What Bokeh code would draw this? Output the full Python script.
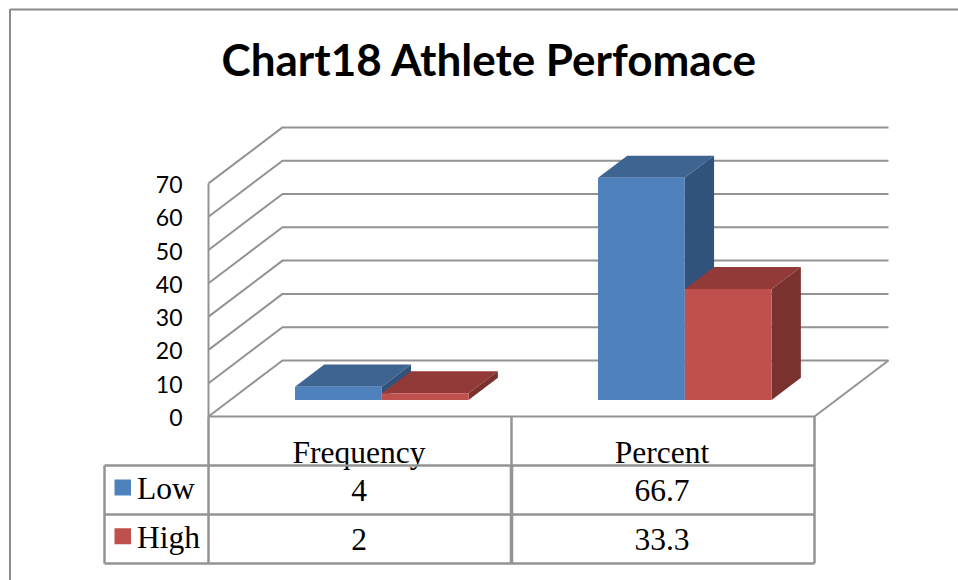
from bokeh.core.properties import value
from bokeh.embed import file_html
from bokeh.models import Range1d
from bokeh.plotting import figure
from bokeh.resources import INLINE

title_text = "Chart18 Athlete Perfomace"
categories = ["Frequency", "Percent"]
series_names = ["Low", "High"]
low_values = [4, 66.7]
high_values = [2, 33.3]
y_ticks = [0, 10, 20, 30, 40, 50, 60, 70]

BLUE = ("#4F81BD", "#3E6491", "#31527A")
RED = ("#C0504D", "#923A38", "#7A322F")
GRID = "#939393"
INK = "#000000"

# Page layout: one category spans CAT_PX pixels and one value unit VAL_PX pixels.
W, H = 958, 580
ORIGIN_X, ORIGIN_Y = 208, 416
CAT_PX, VAL_PX = 303, 3.33

# Oblique projection of the chart's depth axis.
WALL_DX, WALL_DY = 74 / CAT_PX, 56 / VAL_PX
BAR_DEPTH_NEAR, BAR_DEPTH_FAR = 0.295, 0.69
BAR_LEFT, BAR_WIDTH = 0.2135, 0.2865

# Vertical correction of serif text so its baseline lands on the requested row.
BASELINE_LIFT = 10.0
SERIF_SIZE = "31.5px"


def xp(px):
    return (px - ORIGIN_X) / CAT_PX


def yp(px):
    return (ORIGIN_Y - px) / VAL_PX


p = figure(
    width=W, height=H, output_backend="svg", toolbar_location=None,
    x_range=Range1d(xp(0), xp(W)), y_range=Range1d(yp(H), yp(0)),
    x_axis_type=None, y_axis_type=None, min_border=0,
    outline_line_color=None, background_fill_color="#ffffff",
    border_fill_color="#ffffff",
)
p.grid.visible = False

# Outer chart frame (top and left edges).
p.line([xp(9.5), xp(9.5), xp(W)], [yp(H), yp(9), yp(9)], line_color="#8C8C8C", line_width=2)

# Back wall, side wall and floor.
n_cat = len(categories)
for t in y_ticks:
    p.line([0, WALL_DX, n_cat + WALL_DX], [t, t + WALL_DY, t + WALL_DY],
           line_color=GRID, line_width=2)
p.line([0, 0], [0, y_ticks[-1]], line_color=GRID, line_width=2)
p.line([0, n_cat, n_cat + WALL_DX], [0, 0, WALL_DY], line_color=GRID, line_width=2)

# Y tick labels.
p.text([xp(182)] * len(y_ticks), y_ticks, text=[str(t) for t in y_ticks],
       text_font=value("Lato"), text_font_size="23px", text_color=INK,
       text_align="right", text_baseline="middle", y_offset=1)


def draw_box(x0, val, colors):
    """One extruded bar: top face, side face, then front face."""
    x1 = x0 + BAR_WIDTH
    nx, ny = WALL_DX * BAR_DEPTH_NEAR, WALL_DY * BAR_DEPTH_NEAR
    fx, fy = WALL_DX * BAR_DEPTH_FAR, WALL_DY * BAR_DEPTH_FAR
    p.patch([x0 + nx, x0 + fx, x1 + fx, x1 + nx],
            [val + ny, val + fy, val + fy, val + ny], fill_color=colors[1], line_color=None)
    p.patch([x1 + nx, x1 + fx, x1 + fx, x1 + nx],
            [ny, fy, val + fy, val + ny], fill_color=colors[2], line_color=None)
    p.patch([x0 + nx, x1 + nx, x1 + nx, x0 + nx],
            [ny, ny, val + ny, val + ny], fill_color=colors[0], line_color=None)


for i in range(n_cat):
    draw_box(i + BAR_LEFT, low_values[i], BLUE)
    draw_box(i + BAR_LEFT + BAR_WIDTH, high_values[i], RED)

# Category header of the data table, set before its rules so they cross the descenders.
centers = [i + 0.5 - 1 / CAT_PX for i in range(n_cat)]
serif = value("Liberation Serif")
p.text(centers, [yp(461.7 - BASELINE_LIFT)] * n_cat, text=categories, text_font=serif,
       text_font_size=SERIF_SIZE, text_color=INK, text_align="center", text_baseline="alphabetic")

# Data table rules.
TBL_LEFT = xp(104)
ROW_TOPS = [yp(465), yp(514), yp(563)]
for y in ROW_TOPS:
    p.line([TBL_LEFT, n_cat], [y, y], line_color=GRID, line_width=2.5)
p.line([TBL_LEFT, TBL_LEFT], [ROW_TOPS[0], ROW_TOPS[2]], line_color=GRID, line_width=2.5)
for i in range(n_cat + 1):
    p.line([i, i], [0, ROW_TOPS[2]], line_color=GRID, line_width=2.5)
p.line([1, 1], [ROW_TOPS[0], ROW_TOPS[2]], line_color=GRID, line_width=3.5)

# Table rows: legend key, series name and the values of each category.
rows = [(low_values, BLUE[0], 498.0, 499.5), (high_values, RED[0], 546.7, 548.5)]
for name, (vals, color, name_base, val_base) in zip(series_names, rows):
    p.quad(left=[xp(114)], right=[xp(130.5)], top=[yp(name_base - 19)], bottom=[yp(name_base - 3)],
           fill_color=color, line_color=None)
    p.text([xp(136.5)], [yp(name_base - BASELINE_LIFT)], text=[name], text_font=serif,
           text_font_size=SERIF_SIZE, text_color=INK, text_align="left", text_baseline="alphabetic")
    p.text(centers, [yp(val_base - BASELINE_LIFT)] * n_cat, text=[str(v) for v in vals],
           text_font=serif, text_font_size=SERIF_SIZE, text_color=INK, text_align="center",
           text_baseline="alphabetic")

# Chart title.
p.text([xp(489)], [yp(58)], text=[title_text], text_font=value("Lato"), text_font_style="bold",
       text_font_size="44px", text_color=INK, text_align="center", text_baseline="middle")

open("out.html", "w").write(file_html(p, INLINE))
